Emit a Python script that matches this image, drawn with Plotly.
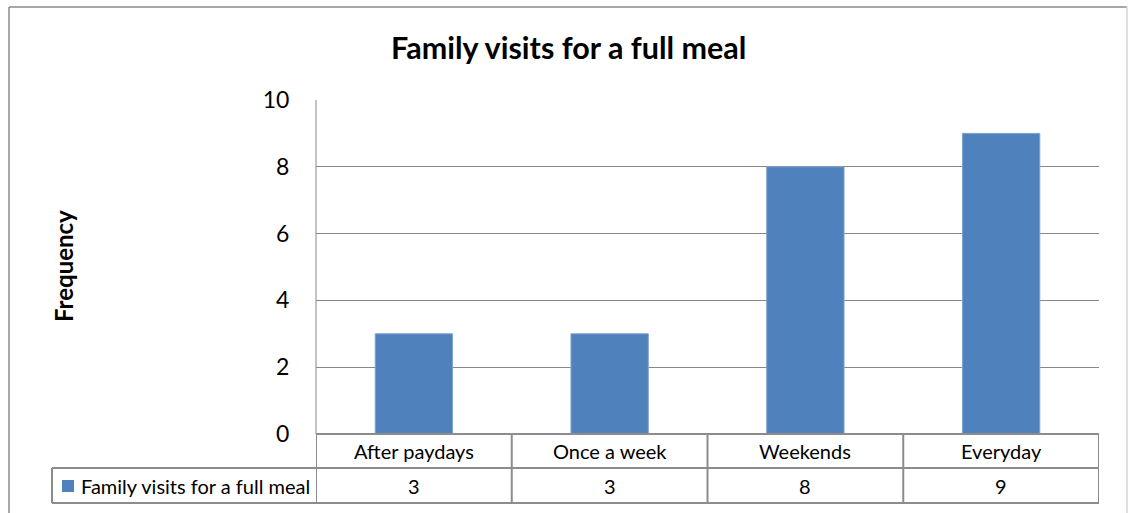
import plotly.graph_objects as go

categories = ["After paydays", "Once a week", "Weekends", "Everyday"]
values = [3, 3, 8, 9]
series_name = "Family visits for a full meal"
chart_title = "Family visits for a full meal"
y_title = "Frequency"
y_ticks = [0, 2, 4, 6, 8, 10]

W, H = 1128, 513
FONT = "Lato"
BAR = "#4F81BD"
GRID = "#878787"
TABLE = "#8C8C8C"

def px(x):
    return x / W

def py(y):
    return 1 - y / H

fig = go.Figure()
fig.add_trace(go.Bar(
    x=categories, y=values, name=series_name,
    marker=dict(color=BAR, line=dict(color="#7FA3CF", width=1)),
    showlegend=False,
))

shapes = []
# outer chart border
shapes.append(dict(type="line", xref="paper", yref="paper", x0=px(9), x1=px(9), y0=py(7), y1=py(513), line=dict(color="#8A8A8A", width=1.5)))
shapes.append(dict(type="line", xref="paper", yref="paper", x0=px(9), x1=px(1127), y0=py(7), y1=py(7), line=dict(color="#8A8A8A", width=1.5)))
shapes.append(dict(type="line", xref="paper", yref="paper", x0=px(1127), x1=px(1127), y0=py(7), y1=py(513), line=dict(color="#D4D4D4", width=1.5)))
# plot-area left axis line
shapes.append(dict(type="line", xref="paper", yref="paper", x0=px(316), x1=px(316), y0=py(100), y1=py(434), line=dict(color=GRID, width=1)))
# data table horizontal lines
shapes.append(dict(type="line", xref="paper", yref="paper", x0=px(316), x1=px(1099), y0=py(434), y1=py(434), line=dict(color=TABLE, width=2)))
shapes.append(dict(type="line", xref="paper", yref="paper", x0=px(52), x1=px(1099), y0=py(468), y1=py(468), line=dict(color=TABLE, width=2)))
shapes.append(dict(type="line", xref="paper", yref="paper", x0=px(52), x1=px(1099), y0=py(503), y1=py(503), line=dict(color=TABLE, width=2)))
shapes.append(dict(type="line", xref="paper", yref="paper", x0=px(52), x1=px(52), y0=py(468), y1=py(503), line=dict(color=TABLE, width=2)))
# vertical category boundaries
n = len(categories)
for i in range(n + 1):
    shapes.append(dict(type="line", xref="x", yref="paper", x0=i - 0.5, x1=i - 0.5, y0=py(434), y1=py(503), line=dict(color=TABLE, width=2)))
# legend key
shapes.append(dict(type="rect", xref="paper", yref="paper", x0=px(62), x1=px(74), y0=py(492), y1=py(480), fillcolor=BAR, line=dict(width=0)))

annotations = []
for c, v in zip(categories, values):
    annotations.append(dict(x=c, xref="x", y=py(451), yref="paper", text=c, showarrow=False,
                            font=dict(family=FONT, size=20, color="#000"), xanchor="center", yanchor="middle"))
    annotations.append(dict(x=c, xref="x", y=py(486), yref="paper", text=str(v), showarrow=False,
                            font=dict(family=FONT, size=20, color="#000"), xanchor="center", yanchor="middle"))
annotations.append(dict(x=px(79), xref="paper", y=py(486), yref="paper", text=series_name, showarrow=False,
                        font=dict(family=FONT, size=20, color="#000"), xanchor="left", yanchor="middle"))
annotations.append(dict(x=px(568), xref="paper", y=py(47), yref="paper", text="<b>" + chart_title + "</b>", showarrow=False,
                        font=dict(family=FONT, size=30.5, color="#000"), xanchor="center", yanchor="middle"))
annotations.append(dict(x=px(63), xref="paper", y=py(266), yref="paper", text="<b>" + y_title + "</b>", showarrow=False,
                        textangle=-90, font=dict(family=FONT, size=24, color="#000"), xanchor="center", yanchor="middle"))

fig.update_layout(
    width=W, height=H,
    margin=dict(l=0, r=0, t=0, b=0, pad=0, autoexpand=False),
    paper_bgcolor="white", plot_bgcolor="white",
    bargap=0.605,
    xaxis=dict(domain=[px(316), px(1099)], showticklabels=False, showgrid=False, zeroline=False,
               showline=False, ticks="", range=[-0.5, n - 0.5], automargin=False),
    yaxis=dict(domain=[py(434), py(100)], range=[0, 10], tickvals=y_ticks, showgrid=True,
               gridcolor=GRID, gridwidth=1, zeroline=False, showline=False,
               ticks="outside", ticklen=0, ticklabelstandoff=21, automargin=False,
               tickfont=dict(family=FONT, size=23, color="#000")),
    shapes=shapes, annotations=annotations,
    font=dict(family=FONT),
)

fig.write_html("out.html", config={"displayModeBar": False},
               post_script="document.body.style.margin='0';document.body.style.overflow='hidden';")
